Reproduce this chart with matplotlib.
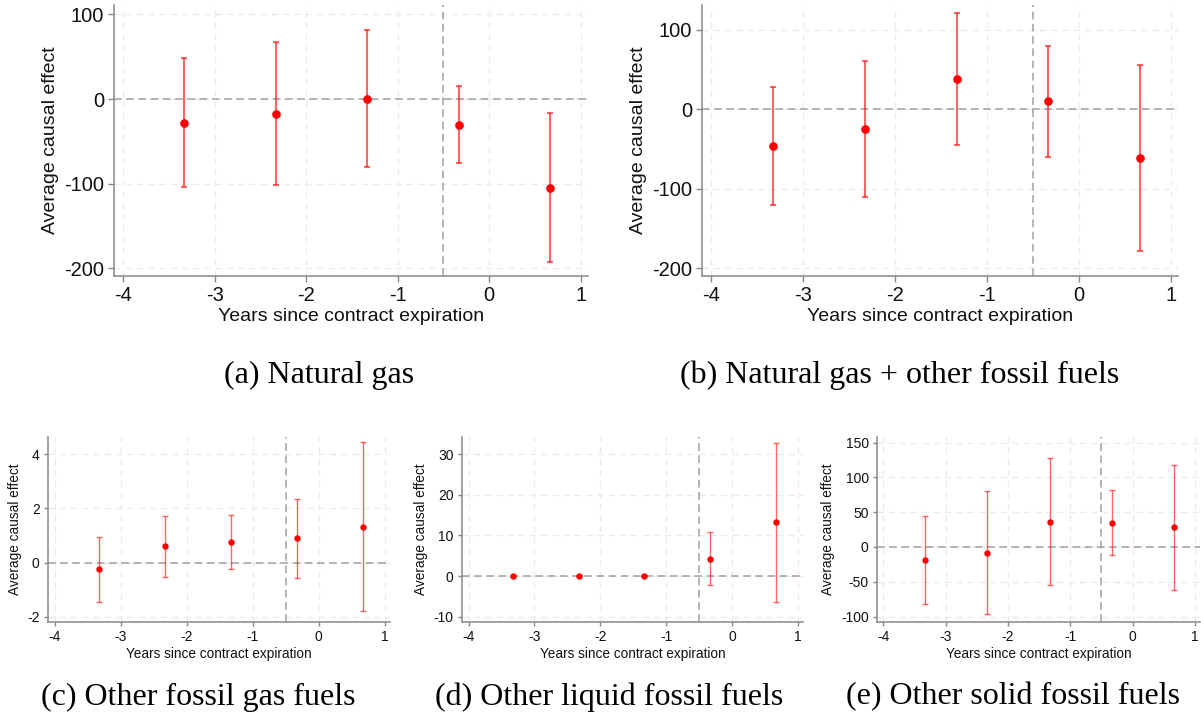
import matplotlib.pyplot as plt
import numpy as np

plt.rcParams['font.family'] = ['Liberation Sans', 'DejaVu Sans']
plt.rcParams['axes.unicode_minus'] = False

# event time (years since contract expiration)
years = np.array([-3.33, -2.33, -1.33, -0.33, 0.67])

# (a) natural gas
gas_est = np.array([-28, -18, 0.5, -31, -105])
gas_lo = np.array([-104, -102, -80, -76, -193])
gas_hi = np.array([48, 67, 82, 15, -16])

# (b) natural gas + other fossil fuels
all_est = np.array([-46, -25, 38, 10, -62])
all_lo = np.array([-120, -110, -45, -60, -178])
all_hi = np.array([28, 61, 121, 80, 55])

# (c) other fossil gas fuels
ogas_est = np.array([-0.24, 0.60, 0.77, 0.90, 1.33])
ogas_lo = np.array([-1.44, -0.53, -0.22, -0.56, -1.80])
ogas_hi = np.array([0.93, 1.73, 1.77, 2.34, 4.45])

# (d) other liquid fossil fuels
liq_est = np.array([0.0, 0.1, 0.1, 4.2, 13.2])
liq_lo = np.array([-0.1, 0.0, 0.0, -2.3, -6.5])
liq_hi = np.array([0.1, 0.2, 0.2, 10.8, 32.8])

# (e) other solid fossil fuels
sol_est = np.array([-18.6, -8.6, 36.3, 34.8, 28.1])
sol_lo = np.array([-82, -97, -55, -12, -62])
sol_hi = np.array([44, 80, 128, 82, 118])

xticks = [-4, -3, -2, -1, 0, 1]


def panel(ax, est, lo, hi, yticks, ylim, big):
    fs = 14.5 if big else 10
    lfs = 14 if big else 9.8
    lw = 1.5 if big else 1.0
    ax.set_xlim(-4.1, 1.08)
    ax.set_ylim(*ylim)
    ax.set_xticks(xticks)
    ax.set_yticks(yticks)
    ax.grid(True, color='#ebebeb', linestyle=(0, (5, 4)), linewidth=0.9)
    ax.set_axisbelow(True)
    ax.axhline(0, color='#a0a0a0', linestyle=(0, (5, 3)), linewidth=1.1, zorder=1)
    ax.axvline(-0.5, color='#a0a0a0', linestyle=(0, (5, 3)), linewidth=1.1, zorder=1)
    ax.errorbar(years, est, yerr=[est - lo, hi - est], fmt='none',
                ecolor=(1, 0, 0, 0.6), elinewidth=lw,
                capsize=2.5 if big else 2, capthick=lw, zorder=3)
    ax.plot(years, est, 'o', color='red', markersize=5.2 if big else 3.6, zorder=4)
    for s in ['top', 'right']:
        ax.spines[s].set_visible(False)
    for s in ['left', 'bottom']:
        ax.spines[s].set_color('#888888')
        ax.spines[s].set_linewidth(1.1)
    ax.tick_params(colors='#888888', labelcolor='#111111', labelsize=fs,
                   length=4 if big else 3, width=1, pad=3)
    ax.set_xlabel('Years since contract expiration', fontsize=lfs, color='#111111',
                  labelpad=2)
    ax.set_ylabel('Average causal effect', fontsize=lfs, color='#111111')


fig = plt.figure(figsize=(12.01, 7.17), dpi=100)

ax_a = fig.add_axes([0.0949, 0.615, 0.3947, 0.378])
panel(ax_a, gas_est, gas_lo, gas_hi, [-200, -100, 0, 100], (-209, 111), True)

ax_b = fig.add_axes([0.5845, 0.615, 0.3963, 0.378])
panel(ax_b, all_est, all_lo, all_hi, [-200, -100, 0, 100], (-210, 131), True)

ax_c = fig.add_axes([0.040, 0.1325, 0.2847, 0.258])
panel(ax_c, ogas_est, ogas_lo, ogas_hi, [-2, 0, 2, 4], (-2.19, 4.63), False)

ax_d = fig.add_axes([0.3847, 0.1325, 0.2840, 0.258])
panel(ax_d, liq_est, liq_lo, liq_hi, [-10, 0, 10, 20, 30], (-11.3, 34.2), False)

ax_e = fig.add_axes([0.7302, 0.1325, 0.2690, 0.258])
panel(ax_e, sol_est, sol_lo, sol_hi, [-100, -50, 0, 50, 100, 150], (-107.8, 158), False)

cap = dict(family=['Liberation Serif', 'DejaVu Serif'], fontsize=23,
           ha='center', va='center')
fig.text(319 / 1201, 1 - 375 / 717, '(a) Natural gas', **cap)
fig.text(900 / 1201, 1 - 375 / 717, '(b) Natural gas + other fossil fuels', **cap)
fig.text(198 / 1201, 1 - 697 / 717, '(c) Other fossil gas fuels', **cap)
fig.text(609 / 1201, 1 - 697 / 717, '(d) Other liquid fossil fuels', **cap)
fig.text(1013 / 1201, 1 - 697 / 717, '(e) Other solid fossil fuels', **cap)

fig.savefig('out.png', dpi=100)
